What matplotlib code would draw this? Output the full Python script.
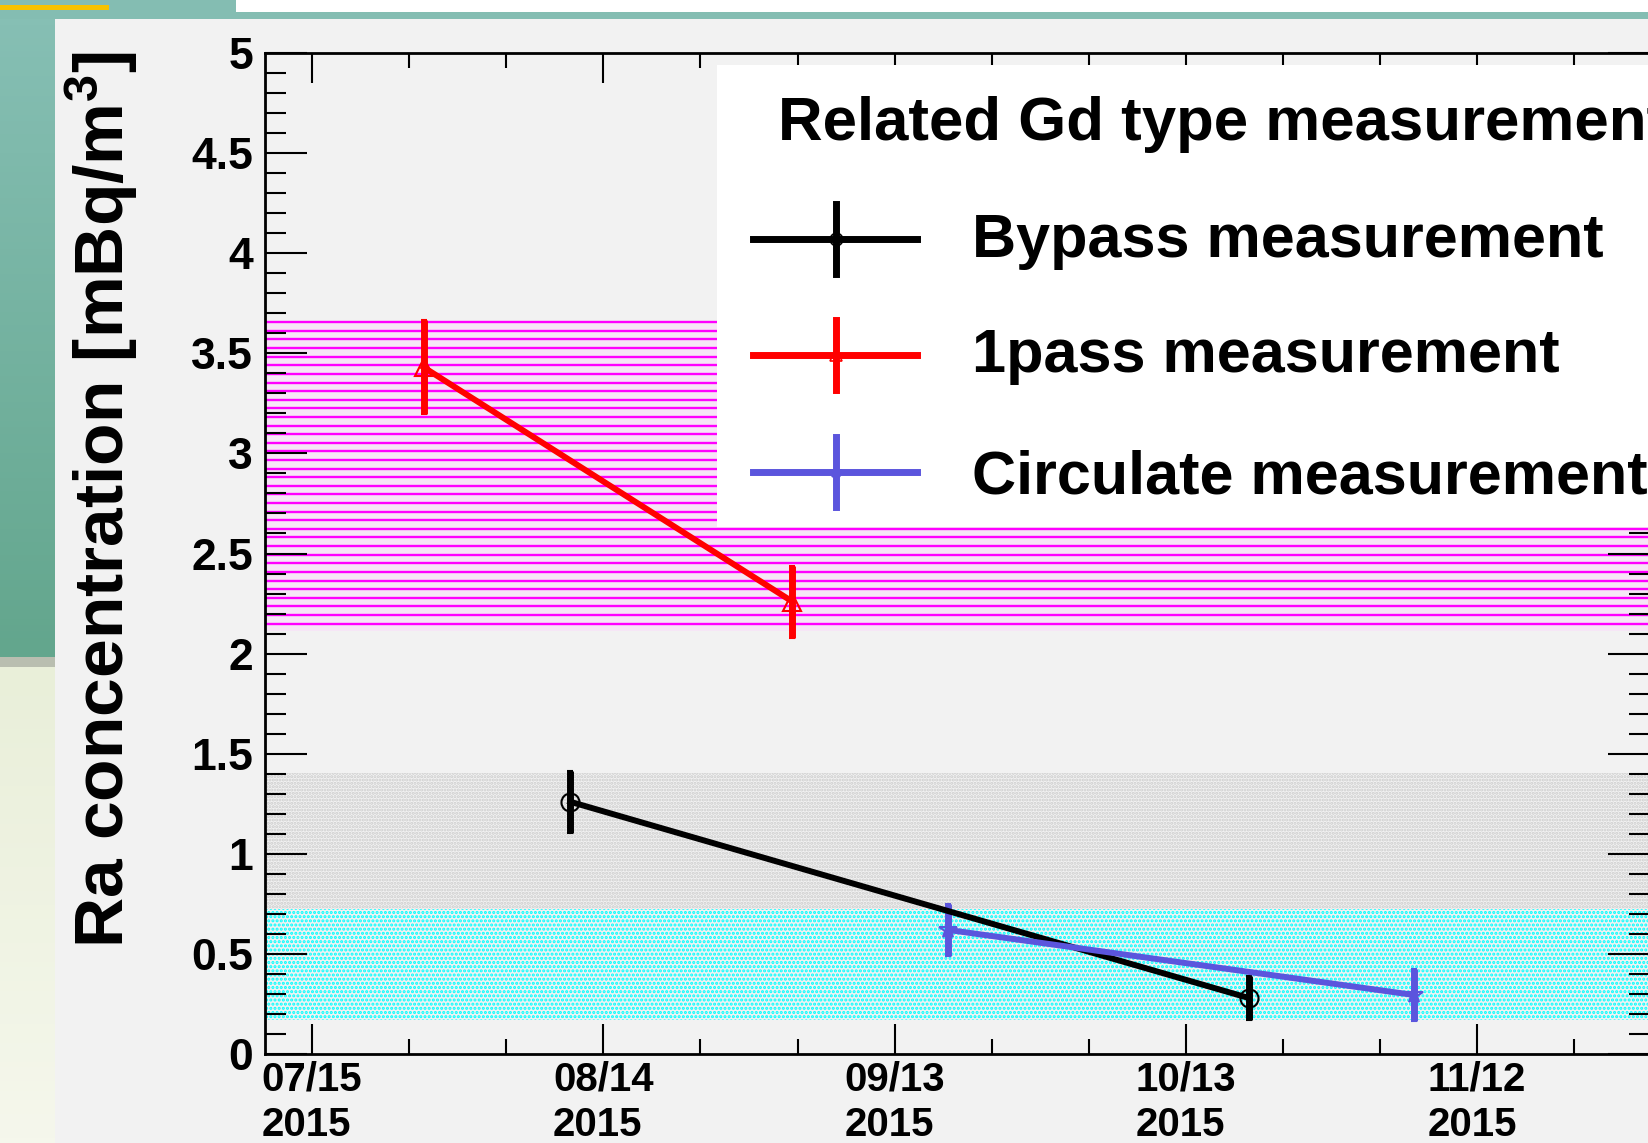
import numpy as np
import pandas as pd
import matplotlib
matplotlib.use("Agg")
import matplotlib.pyplot as plt
import matplotlib.dates as mdates
from matplotlib.patches import Rectangle
from matplotlib.lines import Line2D
from matplotlib.ticker import MultipleLocator, FuncFormatter, FixedLocator

W, H = 1648, 1143

# measured Ra concentration, mBq/m3
bypass_dates = ["2015-08-10 14:00", "2015-10-19 11:00"]
bypass_vals = [1.26, 0.28]
bypass_errs = [0.155, 0.11]

onepass_dates = ["2015-07-26 12:00", "2015-09-02 11:00"]
onepass_vals = [3.43, 2.26]
onepass_errs = [0.235, 0.18]

circ_dates = ["2015-09-18 12:00", "2015-11-05 11:00"]
circ_vals = [0.62, 0.295]
circ_errs = [0.13, 0.13]

# related Gd type bands (low, high)
band_1pass = (2.115, 3.655)
band_bypass = (0.725, 1.405)
band_circ = (0.172, 0.725)

legend_title = "Related Gd type measurement"
series_names = ["Bypass measurement", "1pass measurement", "Circulate measurement"]
series_colors = ["black", "red", "#5b55dd"]
series_markers = ["o", "^", "*"]

plt.rcParams["font.family"] = ["Liberation Sans", "DejaVu Sans"]
plt.rcParams["font.weight"] = "bold"
plt.rcParams["mathtext.fontset"] = "custom"
plt.rcParams["mathtext.rm"] = "Liberation Sans:bold"
plt.rcParams["mathtext.bf"] = "Liberation Sans:bold"
plt.rcParams["mathtext.it"] = "Liberation Sans:bold"
plt.rcParams["hatch.linewidth"] = 1.5


def fx(px):
    return px / W


def fy(py):
    return 1 - py / H


def box(x0, y0, x1, y1, color, z=-10):
    r = Rectangle((fx(x0), fy(y1)), fx(x1) - fx(x0), fy(y0) - fy(y1),
                  transform=fig.transFigure, facecolor=color, edgecolor="none", zorder=z)
    fig.add_artist(r)


fig = plt.figure(figsize=(W / 100, H / 100), dpi=100)
fig.patch.set_facecolor("#84bdb2")

# slide decorations around the pasted plot
grad = fig.add_axes([0, fy(657), fx(55), fy(19) - fy(657)], zorder=-20)
grad.imshow(np.linspace(0, 1, 100)[:, None], aspect="auto",
            cmap=matplotlib.colors.LinearSegmentedColormap.from_list("t", ["#86bfb4", "#63a68d"]))
grad.axis("off")
cream = fig.add_axes([0, 0, fx(55), fy(667)], zorder=-20)
cream.imshow(np.linspace(0, 1, 100)[:, None], aspect="auto",
             cmap=matplotlib.colors.LinearSegmentedColormap.from_list("c", ["#e9efd9", "#f5f7ec"]))
cream.axis("off")
box(0, 657, 55, 667, "#b9beb0")
box(236, 0, W, 12, "white")
box(0, 5, 109, 10, "#f7c200")
box(55, 19, W, H, "#f2f2f2")

ax = fig.add_axes([fx(265), fy(1054), fx(1650) - fx(265), fy(53) - fy(1054)])
ax.set_facecolor("none")

# 1pass band: horizontal hatch lines, bypass/circulate bands: dotted fill
ax.axhspan(*band_1pass, facecolor="#f6e6f6", edgecolor="none", zorder=1)
ax.hlines(np.arange(band_1pass[1], band_1pass[0], -0.043), 0, 1, transform=ax.get_yaxis_transform(),
          color="#ff00ff", lw=1.7, zorder=1)
ax.axhspan(*band_bypass, facecolor="none", edgecolor="#cccccc", hatch=".....", linewidth=0, zorder=1)
ax.axhspan(*band_circ, facecolor="none", edgecolor="#00ffff", hatch="....", linewidth=0, zorder=1)

series = [(bypass_dates, bypass_vals, bypass_errs),
          (onepass_dates, onepass_vals, onepass_errs),
          (circ_dates, circ_vals, circ_errs)]
for (d, v, e), c, m in zip(series, series_colors, series_markers):
    ax.errorbar(pd.to_datetime(d), v, yerr=e, color=c, lw=4.3, elinewidth=5, capsize=2.5, capthick=4,
                marker=m, ms=13, mfc="none", mec=c, mew=1.5, zorder=3)

t0 = pd.Timestamp("2015-07-15")
ax.set_xlim(t0 - pd.Timedelta(days=4.85), t0 + pd.Timedelta(days=137.8))
ax.set_ylim(0, 5)

major = pd.date_range(t0, periods=5, freq="30D")
minor = pd.date_range(t0, periods=14, freq="10D")
ax.xaxis.set_major_locator(FixedLocator(mdates.date2num(major)))
ax.xaxis.set_minor_locator(FixedLocator(mdates.date2num(minor)))
ax.xaxis.set_major_formatter(mdates.DateFormatter("%m/%d\n%Y"))
ax.yaxis.set_major_locator(MultipleLocator(0.5))
ax.yaxis.set_minor_locator(MultipleLocator(0.1))
ax.yaxis.set_major_formatter(FuncFormatter(lambda v, p: "%g" % v))

ax.tick_params(which="both", direction="in", top=True, right=True, width=1.5, color="black")
ax.tick_params(axis="x", which="major", length=21.6, labelsize=29, pad=5)
ax.tick_params(axis="x", which="minor", length=11)
ax.tick_params(axis="y", which="major", length=30, labelsize=32, pad=8.6)
ax.tick_params(axis="y", which="minor", length=15)
plt.setp(ax.get_xticklabels(), multialignment="left", linespacing=1.25)
for s in ax.spines.values():
    s.set_linewidth(2)

fig.text(fx(124), fy(500), "Ra concentration [mBq/m$^{3}$]", rotation=90, rotation_mode="anchor",
         ha="center", va="baseline", fontsize=50, fontweight="bold")

# legend box
box(717, 65, W + 10, 527, "white", z=5)
fig.text(fx(778), fy(140), legend_title, fontsize=44.5, fontweight="bold", va="baseline", zorder=6)
line_y = [239, 355, 472]
text_base = [257, 372, 493]
for name, c, m, ly, tb in zip(series_names, series_colors, series_markers, line_y, text_base):
    fig.add_artist(Line2D([fx(753), fx(917)], [fy(ly), fy(ly)], transform=fig.transFigure,
                          color=c, lw=5, zorder=6))
    fig.add_artist(Line2D([fx(836), fx(836)], [fy(ly - 35), fy(ly + 35)], transform=fig.transFigure,
                          color=c, lw=5, zorder=6))
    fig.add_artist(Line2D([fx(836)], [fy(ly)], transform=fig.transFigure, marker=m, ms=9,
                          mfc="none", mec=c, mew=1.2, zorder=6))
    fig.text(fx(972), fy(tb), name, fontsize=44, fontweight="bold", va="baseline", zorder=6)

fig.savefig("out.png", dpi=100, facecolor=fig.get_facecolor())
